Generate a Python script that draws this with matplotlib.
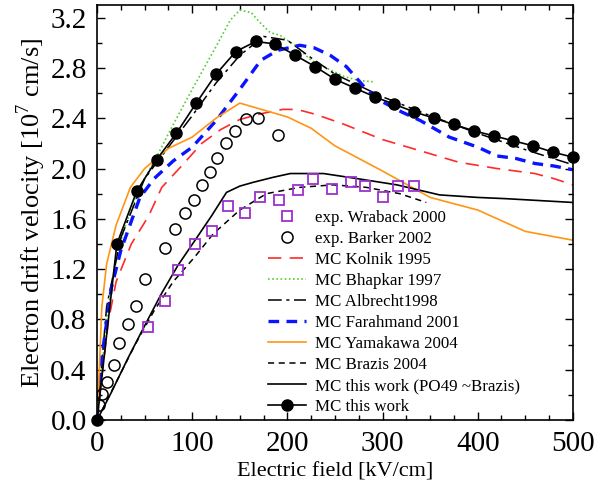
import numpy as np
import matplotlib
matplotlib.use("Agg")
import matplotlib.pyplot as plt
from matplotlib.legend_handler import HandlerLine2D

# ---------------- data ----------------
wrb_x = [54, 71, 85, 103, 121, 138, 155, 171, 191, 211, 227, 247, 267, 282, 300, 316, 333]
wrb_y = [0.74, 0.95, 1.19, 1.40, 1.50, 1.70, 1.65, 1.77, 1.75, 1.83, 1.92, 1.84, 1.89, 1.86, 1.77, 1.86, 1.86]

bar_x = [2, 5.6, 10, 18, 23.5, 32, 41, 50, 71, 82, 92, 102, 110.5, 119, 126, 135.5, 145, 157, 169.5, 190]
bar_y = [0.12, 0.21, 0.30, 0.44, 0.61, 0.76, 0.91, 1.12, 1.37, 1.52, 1.65, 1.75, 1.87, 1.97, 2.08, 2.20, 2.30, 2.39, 2.40, 2.27]

kol_x = [0, 5, 12, 20, 36, 54, 68, 90, 110, 130, 150, 175, 195, 210, 230, 260, 300, 340, 380, 420, 460, 480, 500]
kol_y = [0, 0.35, 0.79, 1.10, 1.40, 1.62, 1.85, 2.03, 2.20, 2.31, 2.39, 2.44, 2.47, 2.47, 2.43, 2.35, 2.23, 2.14, 2.05, 2.00, 1.96, 1.92, 1.87]

bha_x = [0, 10, 20, 30, 45, 63, 80, 100, 125, 140, 150, 162, 170, 182, 192, 208, 225, 241, 260, 275, 290]
bha_y = [0, 0.80, 1.30, 1.55, 1.85, 2.10, 2.35, 2.63, 2.97, 3.18, 3.26, 3.24, 3.17, 3.08, 3.06, 2.98, 2.86, 2.80, 2.73, 2.70, 2.69]

alb_x = [0, 10, 25, 50, 75, 100, 125, 150, 175, 200, 225, 250, 300, 350, 400, 450, 500]
alb_y = [0, 0.90, 1.45, 1.92, 2.17, 2.42, 2.68, 2.90, 3.05, 3.02, 2.88, 2.75, 2.57, 2.42, 2.28, 2.15, 2.03]

far_x = [0, 5, 15, 25, 45, 60, 80, 100, 125, 150, 172, 190, 213, 228, 245, 262, 283, 300, 320, 340, 370, 400, 420, 440, 460, 480, 500]
far_y = [0, 0.50, 1.05, 1.35, 1.77, 1.92, 2.06, 2.17, 2.38, 2.63, 2.86, 2.94, 2.98, 2.96, 2.90, 2.81, 2.63, 2.53, 2.45, 2.38, 2.25, 2.17, 2.10, 2.08, 2.04, 2.02, 1.99]

yam_x = [0, 1.5, 5, 10, 20, 26, 35, 50, 75, 100, 125, 150, 200, 225, 250, 300, 350, 400, 450, 500]
yam_y = [0, 0.25, 0.90, 1.24, 1.55, 1.67, 1.85, 2.00, 2.16, 2.25, 2.40, 2.52, 2.41, 2.32, 2.18, 1.98, 1.77, 1.67, 1.50, 1.43]

bra_x = [0, 20, 40, 60, 80, 103, 122, 150, 178, 213, 248, 283, 318, 346]
bra_y = [0, 0.30, 0.60, 0.87, 1.10, 1.30, 1.48, 1.67, 1.80, 1.85, 1.87, 1.85, 1.80, 1.73]

po_x = [0, 15, 33, 50, 68, 85, 103, 120, 136, 150, 164, 185, 203, 238, 273, 315, 360, 400, 430, 500]
po_y = [0, 0.22, 0.50, 0.75, 1.01, 1.23, 1.43, 1.62, 1.81, 1.86, 1.89, 1.93, 1.96, 1.96, 1.92, 1.87, 1.79, 1.77, 1.76, 1.73]

tw_x = [0, 20.8, 41.7, 62.5, 83.3, 104.2, 125, 145.8, 166.7, 187.5, 208.3, 229.2, 250, 270.8, 291.7,
        312.5, 333.3, 354.2, 375, 395.8, 416.7, 437.5, 458.3, 479.2, 500]
tw_y = [0, 1.40, 1.82, 2.07, 2.28, 2.52, 2.75, 2.93, 3.01, 2.99, 2.90, 2.81, 2.71, 2.64, 2.57,
        2.51, 2.45, 2.40, 2.35, 2.30, 2.26, 2.22, 2.18, 2.13, 2.09]

xticks = [0, 100, 200, 300, 400, 500]
yticks = [0.0, 0.4, 0.8, 1.2, 1.6, 2.0, 2.4, 2.8, 3.2]

# ---------------- plot ----------------
plt.rcParams['font.family'] = ['Liberation Serif', 'DejaVu Serif']
plt.rcParams['mathtext.fontset'] = 'custom'
plt.rcParams['mathtext.rm'] = 'Liberation Serif'

fig = plt.figure(figsize=(6.03, 4.92), dpi=100)
ax = fig.add_axes([0.161, 0.1463, 0.789, 0.8435])

purple = '#9a32cd'
h_wrb, = ax.plot(wrb_x, wrb_y, ls='none', marker='s', ms=7, mfc='none', mec=purple, mew=1.3,
                 label='exp. Wraback 2000', zorder=5)
h_bar, = ax.plot(bar_x, bar_y, ls='none', marker='o', ms=8, mfc='none', mec='black', mew=1.1,
                 label='exp. Barker 2002', zorder=5)
h_kol, = ax.plot(kol_x, kol_y, color='#ff2a2a', lw=1.2, dashes=(8, 5), label='MC Kolnik 1995')
h_bha, = ax.plot(bha_x, bha_y, color='#55cc33', lw=1.2, dashes=(1, 1.5), label='MC Bhapkar 1997')
h_alb, = ax.plot(alb_x, alb_y, color='black', lw=1.1, dashes=(9, 3, 2, 3), label='MC Albrecht1998')
h_far, = ax.plot(far_x, far_y, color='#0a14ff', lw=2.4, dashes=(3.2, 2.2), label='MC Farahmand 2001')
h_yam, = ax.plot(yam_x, yam_y, color='#ff9514', lw=1.2, label='MC Yamakawa 2004')
h_bra, = ax.plot(bra_x, bra_y, color='black', lw=1.1, dashes=(4, 3), label='MC Brazis 2004')
h_po, = ax.plot(po_x, po_y, color='black', lw=1.2, label='MC this work (PO49 ~Brazis)')
h_tw, = ax.plot(tw_x, tw_y, color='black', lw=1.2, marker='o', ms=8, mfc='black', mec='black',
                label='MC this work', zorder=6, clip_on=False)

ax.set_xlim(0, 500)
ax.set_ylim(0, 3.3)
ax.set_xticks(xticks)
ax.set_yticks(yticks)
ax.set_yticklabels([f'{v:.1f}' for v in yticks])
ax.set_xticks(np.arange(0, 501, 25), minor=True)
ax.set_yticks(np.arange(0, 3.31, 0.2), minor=True)
ax.tick_params(which='both', direction='in', top=True, right=True, labelsize=21)
ax.tick_params(which='major', length=6, width=1.0)
ax.tick_params(which='minor', length=3.5, width=1.0)
ax.tick_params(axis='x', which='major', pad=8)
ax.tick_params(axis='y', which='major', pad=7.5)
for s in ax.spines.values():
    s.set_linewidth(1.2)

ax.set_xlabel('Electric field [kV/cm]', fontsize=16, labelpad=4)
ax.set_ylabel('Electron drift velocity [10$^{7}$ cm/s]', fontsize=19, labelpad=2)


class HandlerRight(HandlerLine2D):
    def get_xdata(self, legend, xdescent, ydescent, width, height, fontsize):
        xdata = np.array([-xdescent, -xdescent + width])
        return xdata, np.array([-xdescent + width])


class HandlerEnds(HandlerLine2D):
    def get_xdata(self, legend, xdescent, ydescent, width, height, fontsize):
        xdata = np.array([-xdescent, -xdescent + width])
        return xdata, xdata


handles = [h_wrb, h_bar, h_kol, h_bha, h_alb, h_far, h_yam, h_bra, h_po, h_tw]
leg = ax.legend(handles=handles, loc='upper left', bbox_to_anchor=(0.359, 0.507),
                frameon=False, fontsize=12.2, handlelength=2.26, handletextpad=0.54,
                labelspacing=0.3, borderaxespad=0, borderpad=0,
                handler_map={h_wrb: HandlerRight(), h_bar: HandlerRight(), h_tw: HandlerEnds()})

fig.savefig('out.png', dpi=100)
